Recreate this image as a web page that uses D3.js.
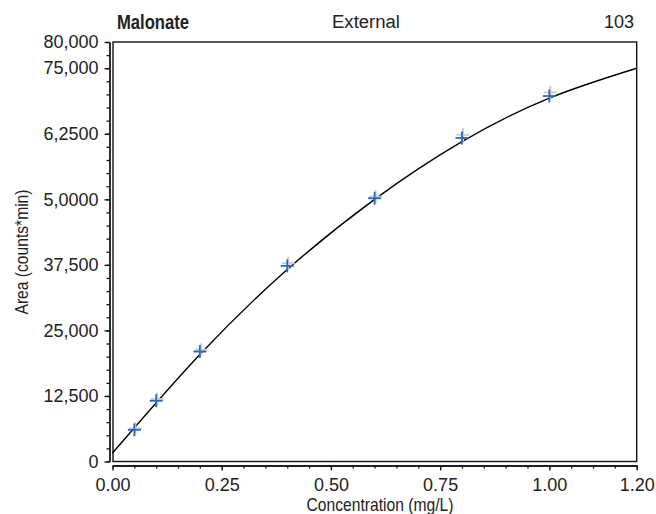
<!DOCTYPE html>
<html>
<head>
<meta charset="utf-8">
<script src="https://cdn.jsdelivr.net/npm/d3@7"></script>
<style>
  body { margin: 0; background: #fff; }
  svg text { font-family: "Liberation Sans", Arial, sans-serif; fill: #222; }
</style>
</head>
<body>
<div id="chart"></div>
<script>
// standards (mg/L) and peak area
var conc = [0.05, 0.10, 0.20, 0.40, 0.60, 0.80, 1.00];
var area = [6040, 11570, 20970, 37300, 50200, 61700, 69700];
// faint second replicate crosses
var areaRep = [6300, 11900, 21300, 37800, 50500, 62300, 70400];

// calibration curve, read at a few concentrations
var curveConc = [0, 0.2, 0.4, 0.6, 0.8, 1.0, 1.2];
var curveArea = [1600, 20400, 36600, 50000, 61000, 69300, 75000];

var yTicks = [0, 12500, 25000, 37500, 50000, 62500, 75000, 80000];
var yTickLabels = ["0", "12,500", "25,000", "37,500", "5,0000", "6,2500", "75,000", "80,000"];
var xTicks = [0, 0.25, 0.5, 0.75, 1.0, 1.2];
var xTickLabels = ["0.00", "0.25", "0.50", "0.75", "1.00", "1.20"];

var width = 656, height = 514;
var plotLeft = 112.5, plotRight = 636.7, plotTop = 42, plotBottom = 461.5;

var svg = d3.select("#chart").append("svg")
    .attr("width", width)
    .attr("height", height);

var x = d3.scaleLinear().domain([0, 1.2]).range([plotLeft, plotRight]);
var y = d3.scaleLinear().domain([0, 80000]).range([plotBottom, plotTop]);

// header
svg.append("text")
    .attr("x", 117).attr("y", 29)
    .style("font-size", "20px").style("font-weight", "bold")
    .attr("textLength", 72).attr("lengthAdjust", "spacingAndGlyphs")
    .text("Malonate");
svg.append("text")
    .attr("x", 366).attr("y", 28)
    .attr("text-anchor", "middle")
    .style("font-size", "18px")
    .attr("textLength", 68).attr("lengthAdjust", "spacingAndGlyphs")
    .text("External");
svg.append("text")
    .attr("x", 634).attr("y", 28)
    .attr("text-anchor", "end")
    .style("font-size", "18px")
    .text("103");

// plot frame
svg.append("rect")
    .attr("x", x(0) + 0.5).attr("y", plotTop)
    .attr("width", plotRight - x(0) - 0.5).attr("height", plotBottom - plotTop)
    .attr("fill", "none")
    .attr("stroke", "#111")
    .attr("stroke-width", 1.4);

// y axis, a little left of the frame
var yAxisG = svg.append("g").attr("transform", "translate(109.5,0)");
yAxisG.call(d3.axisLeft(y).tickValues(d3.range(0, 80001, 2500))
    .tickSize(3).tickSizeOuter(0).tickFormat(""));
yAxisG.append("g").call(d3.axisLeft(y).tickValues(yTicks)
    .tickSize(5).tickSizeOuter(0).tickPadding(6)
    .tickFormat(function(d, i) { return yTickLabels[i]; }));
yAxisG.selectAll("path, line").attr("stroke", "#111").attr("stroke-width", 1.3);
yAxisG.selectAll("text").style("font-size", "18px").attr("fill", "#222");

// x axis, a little below the frame
var xAxisG = svg.append("g").attr("transform", "translate(0,465.5)");
xAxisG.call(d3.axisBottom(x).tickValues(d3.range(0, 1.2001, 0.05))
    .tickSize(3).tickSizeOuter(0).tickFormat(""));
xAxisG.append("g").call(d3.axisBottom(x).tickValues(xTicks)
    .tickSize(5).tickSizeOuter(0).tickPadding(8)
    .tickFormat(function(d, i) { return xTickLabels[i]; }));
xAxisG.selectAll("path, line").attr("stroke", "#111").attr("stroke-width", 1.3);
xAxisG.selectAll("text").style("font-size", "18px").attr("fill", "#222");

// axis titles
svg.append("text")
    .attr("x", 380).attr("y", 511)
    .attr("text-anchor", "middle")
    .style("font-size", "19px")
    .attr("textLength", 147).attr("lengthAdjust", "spacingAndGlyphs")
    .text("Concentration (mg/L)");
svg.append("text")
    .attr("transform", "translate(28,252) rotate(-90)")
    .attr("text-anchor", "middle")
    .style("font-size", "19px")
    .attr("textLength", 125).attr("lengthAdjust", "spacingAndGlyphs")
    .text("Area (counts*min)");

// fit curve
var curveData = curveConc.map(function(c, i) { return {c: c, a: curveArea[i]}; });
svg.append("path")
    .datum(curveData)
    .attr("fill", "none")
    .attr("stroke", "#000")
    .attr("stroke-width", 1.4)
    .attr("d", d3.line()
        .x(function(d) { return x(d.c); })
        .y(function(d) { return y(d.a); })
        .curve(d3.curveNatural));

// crosses
function drawCross(g, cx, cy, r, color, w) {
    g.append("line").attr("x1", cx - r).attr("x2", cx + r).attr("y1", cy).attr("y2", cy)
        .attr("stroke", color).attr("stroke-width", w);
    g.append("line").attr("x1", cx).attr("x2", cx).attr("y1", cy - r).attr("y2", cy + r)
        .attr("stroke", color).attr("stroke-width", w);
}
var pts = svg.append("g");
conc.forEach(function(c, i) {
    drawCross(pts, x(c) + 1, y(areaRep[i]), 6.5, "#c9cdd2", 2);
});
conc.forEach(function(c, i) {
    drawCross(pts, x(c), y(area[i]), 6.5, "#2a6db5", 1.8);
});
</script>
</body>
</html>
